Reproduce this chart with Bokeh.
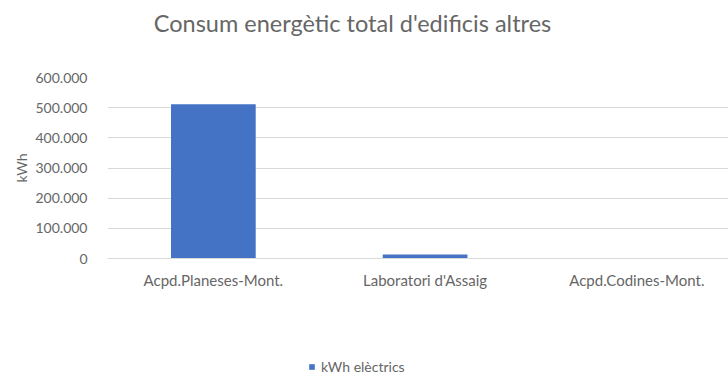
from bokeh.plotting import figure
from bokeh.layouts import column
from bokeh.models import ColumnDataSource, Range1d, FixedTicker, Label, Legend, LegendItem
from bokeh.embed import file_html
from bokeh.resources import INLINE

# ---- data ----
categories = ["Acpd.Planeses-Mont.", "Laboratori d'Assaig", "Acpd.Codines-Mont."]
kwh_electrics = [511000, 13000, 0]
y_ticks = [0, 100000, 200000, 300000, 400000, 500000, 600000]
y_tick_labels = ["0", "100.000", "200.000", "300.000", "400.000", "500.000", "600.000"]
series_name = "kWh elèctrics"
title_text = "Consum  energètic total d'edificis altres"
y_label = "kWh"

FONT = "Lato"
TXT = "#666666"
GRID = "#d9d9d9"
BAR = "#4472C4"

x_pos = list(range(len(categories)))
src = ColumnDataSource(dict(x=x_pos, y=kwh_electrics, name=categories))

W = 728
H0, H1, H2 = 44, 256, 78


def bare(h):
    f = figure(width=W, height=h, output_backend="svg", toolbar_location=None,
               x_axis_location=None, y_axis_location=None,
               min_border_left=0, min_border_right=0, min_border_top=0, min_border_bottom=0)
    f.outline_line_color = None
    f.xgrid.grid_line_color = None
    f.ygrid.grid_line_color = None
    f.border_fill_color = "white"
    f.background_fill_color = "white"
    return f


# ---- title strip ----
p0 = bare(H0)
p0.add_layout(Label(x=248, y=H0 - 22, x_units="screen", y_units="screen", text=title_text,
                    text_align="center", text_baseline="middle", text_font=FONT,
                    text_font_size="23.5px", text_color=TXT))

# ---- main chart ----
p = figure(width=W, height=H1, output_backend="svg", toolbar_location=None,
           x_range=Range1d(-0.5, 2.433), y_range=Range1d(0, 600000),
           min_border_left=107, min_border_right=0, min_border_top=33,
           min_border_bottom=42)
p.outline_line_color = None
p.background_fill_color = "white"
p.border_fill_color = "white"

p.vbar(x="x", top="y", width=0.40, source=src, fill_color=BAR, line_color=None)

p.yaxis.ticker = FixedTicker(ticks=y_ticks)
p.yaxis.major_label_overrides = {t: l for t, l in zip(y_ticks, y_tick_labels)}
p.yaxis.axis_line_color = None
p.yaxis.major_tick_line_color = None
p.yaxis.minor_tick_line_color = None
p.yaxis.major_label_text_font = FONT
p.yaxis.major_label_text_font_size = "14px"
p.yaxis.major_label_text_color = TXT
p.yaxis.major_label_standoff = 14
p.yaxis.axis_label = y_label
p.yaxis.axis_label_text_font = FONT
p.yaxis.axis_label_text_font_size = "14px"
p.yaxis.axis_label_text_font_style = "normal"
p.yaxis.axis_label_text_color = TXT
p.yaxis.axis_label_standoff = 2

p.xaxis.ticker = FixedTicker(ticks=x_pos)
p.xaxis.major_label_overrides = {i: c for i, c in zip(x_pos, categories)}
p.xaxis.axis_line_color = GRID
p.xaxis.major_tick_line_color = None
p.xaxis.minor_tick_line_color = None
p.xaxis.major_label_text_font = FONT
p.xaxis.major_label_text_font_size = "15px"
p.xaxis.major_label_text_color = TXT
p.xaxis.major_label_standoff = 6

p.xgrid.grid_line_color = None
p.ygrid.grid_line_color = GRID
p.ygrid.grid_line_width = 1

# ---- legend strip ----
p2 = bare(H2)
p2.x_range = Range1d(-0.5, 2.433)
p2.y_range = Range1d(0, 600000)
lr = p2.vbar(x="x", top="y", width=0.40, source=src, fill_color=BAR, line_color=None)
lr.visible = False
legend = Legend(items=[LegendItem(label=series_name, renderers=[lr])],
                location=(201, 3), orientation="horizontal",
                padding=0, margin=0, spacing=0, border_line_color=None,
                background_fill_alpha=0, glyph_width=7, glyph_height=7,
                label_height=12, label_standoff=6, label_text_font=FONT,
                label_text_font_size="14px", label_text_color=TXT)
p2.add_layout(legend, "center")

layout = column(p0, p, p2, spacing=0)
open("out.html", "w").write(file_html(layout, INLINE))
